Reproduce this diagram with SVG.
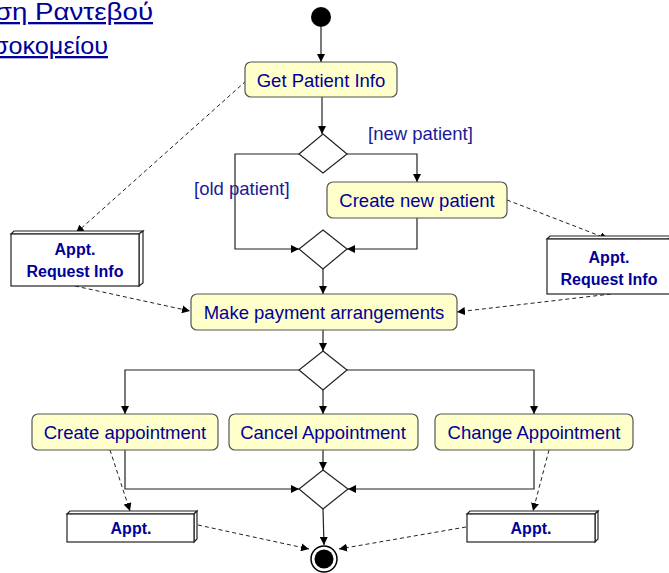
<svg xmlns="http://www.w3.org/2000/svg" width="669" height="573" viewBox="0 0 669 573">
<style>
.act{fill:#ffffcc;stroke:#555;stroke-width:1.2}
.at{font-family:"Liberation Sans",Arial,sans-serif;font-size:18.5px;fill:#000099;text-anchor:middle}
.gd{font-family:"Liberation Sans",Arial,sans-serif;font-size:18.5px;fill:#1a1a99}
.obj{fill:#fff;stroke:#222;stroke-width:1.2}
.ot{font-family:"Liberation Sans",Arial,sans-serif;font-size:16px;font-weight:bold;fill:#000099;text-anchor:middle}
.dia{fill:#fff;stroke:#222;stroke-width:1.2}
.ln{fill:none;stroke:#222;stroke-width:1.2}
.dl{fill:none;stroke:#222;stroke-width:1;stroke-dasharray:4,3}
.title{font-family:"Liberation Sans",Arial,sans-serif;font-size:23px;fill:#000099;text-decoration:underline}
</style>
<defs>
<marker id="ah" viewBox="0 0 10 10" refX="10" refY="5" markerWidth="8" markerHeight="8" orient="auto" markerUnits="userSpaceOnUse">
<path d="M0,0 L10,5 L0,10 z" fill="#000"/>
</marker>
</defs>

<g id="title">
<text class="title" x="-5" y="20" textLength="158" lengthAdjust="spacingAndGlyphs">ση Ραντεβού</text>
<text class="title" x="-7" y="54" textLength="115" lengthAdjust="spacingAndGlyphs">σοκομείου</text>
</g>

<g id="connectors">
<path class="ln" d="M321,27 V62" marker-end="url(#ah)"/>
<path class="ln" d="M322,97 V134" marker-end="url(#ah)"/>
<path class="ln" d="M299,154 H235 V249 H299" marker-end="url(#ah)"/>
<path class="ln" d="M347,154 H417 V182" marker-end="url(#ah)"/>
<path class="ln" d="M417,218 V249 H347" marker-end="url(#ah)"/>
<path class="ln" d="M323,269 V294" marker-end="url(#ah)"/>
<path class="ln" d="M323,330 V351" marker-end="url(#ah)"/>
<path class="ln" d="M299,370 H125 V414" marker-end="url(#ah)"/>
<path class="ln" d="M347,370 H534 V414" marker-end="url(#ah)"/>
<path class="ln" d="M323,390 V414" marker-end="url(#ah)"/>
<path class="ln" d="M125,450 V489 H299" marker-end="url(#ah)"/>
<path class="ln" d="M534,450 V489 H348" marker-end="url(#ah)"/>
<path class="ln" d="M323,450 V470" marker-end="url(#ah)"/>
<path class="ln" d="M323,509 L324,545" marker-end="url(#ah)"/>
<path class="dl" d="M246,81 L76,233" marker-end="url(#ah)"/>
<path class="dl" d="M75,286 L190,311" marker-end="url(#ah)"/>
<path class="dl" d="M507,200 L608,239" marker-end="url(#ah)"/>
<path class="dl" d="M611,294 L457,312" marker-end="url(#ah)"/>
<path class="dl" d="M110,450 L130,511" marker-end="url(#ah)"/>
<path class="dl" d="M549,450 L533,511" marker-end="url(#ah)"/>
<path class="dl" d="M198,525 L309,549" marker-end="url(#ah)"/>
<path class="dl" d="M466,527 L339,549" marker-end="url(#ah)"/>
<text class="gd" x="368" y="140">[new patient]</text>
<text class="gd" x="194" y="195">[old patient]</text>
</g>

<g id="start"><circle cx="321" cy="17" r="10" fill="#000"/></g>

<g id="get-patient-info">
<rect class="act" x="245" y="62" width="152" height="35" rx="6"/>
<text class="at" x="321" y="87">Get Patient Info</text>
</g>

<g id="decision1"><path class="dia" d="M323,134 L347,154 L323,173 L299,154 z"/></g>

<g id="create-new-patient">
<rect class="act" x="327" y="182" width="180" height="36" rx="6"/>
<text class="at" x="417" y="207">Create new patient</text>
</g>

<g id="merge1"><path class="dia" d="M323,230 L347,249 L323,269 L299,249 z"/></g>

<g id="appt-request-left">
<path class="obj" d="M11,234 L14,231 L143,231 L139,234 z"/>
<path class="obj" d="M139,234 L143,231 L143,283 L139,286 z"/>
<rect class="obj" x="11" y="234" width="128" height="52"/>
<text class="ot" x="75" y="255">Appt.</text>
<text class="ot" x="75" y="277">Request Info</text>
</g>

<g id="appt-request-right">
<path class="obj" d="M547,239 L550,236 L672,236 L668,239 z"/>
<rect class="obj" x="547" y="239" width="125" height="55"/>
<text class="ot" x="609" y="263">Appt.</text>
<text class="ot" x="609" y="285">Request Info</text>
</g>

<g id="make-payment">
<rect class="act" x="191" y="294" width="266" height="36" rx="6"/>
<text class="at" x="324" y="319">Make payment arrangements</text>
</g>

<g id="decision2"><path class="dia" d="M323,351 L347,370 L323,390 L299,370 z"/></g>

<g id="create-appointment">
<rect class="act" x="32" y="414" width="186" height="36" rx="6"/>
<text class="at" x="125" y="439">Create appointment</text>
</g>

<g id="cancel-appointment">
<rect class="act" x="229" y="414" width="189" height="36" rx="6"/>
<text class="at" x="323" y="439">Cancel Appointment</text>
</g>

<g id="change-appointment">
<rect class="act" x="435" y="414" width="198" height="36" rx="6"/>
<text class="at" x="534" y="439">Change Appointment</text>
</g>

<g id="merge2"><path class="dia" d="M323,470 L348,489 L323,509 L299,489 z"/></g>

<g id="appt-left">
<path class="obj" d="M67,514 L70,511 L197,511 L194,514 z"/>
<path class="obj" d="M194,514 L197,511 L197,539 L194,542 z"/>
<rect class="obj" x="67" y="514" width="127" height="28"/>
<text class="ot" x="131" y="534">Appt.</text>
</g>

<g id="appt-right">
<path class="obj" d="M467,514 L470,511 L598,511 L595,514 z"/>
<path class="obj" d="M595,514 L598,511 L598,539 L595,542 z"/>
<rect class="obj" x="467" y="514" width="128" height="28"/>
<text class="ot" x="531" y="534">Appt.</text>
</g>

<g id="end">
<circle cx="324" cy="559" r="13" fill="#fff" stroke="#000" stroke-width="1.5"/>
<circle cx="324" cy="559" r="9.5" fill="#000"/>
</g>
</svg>
